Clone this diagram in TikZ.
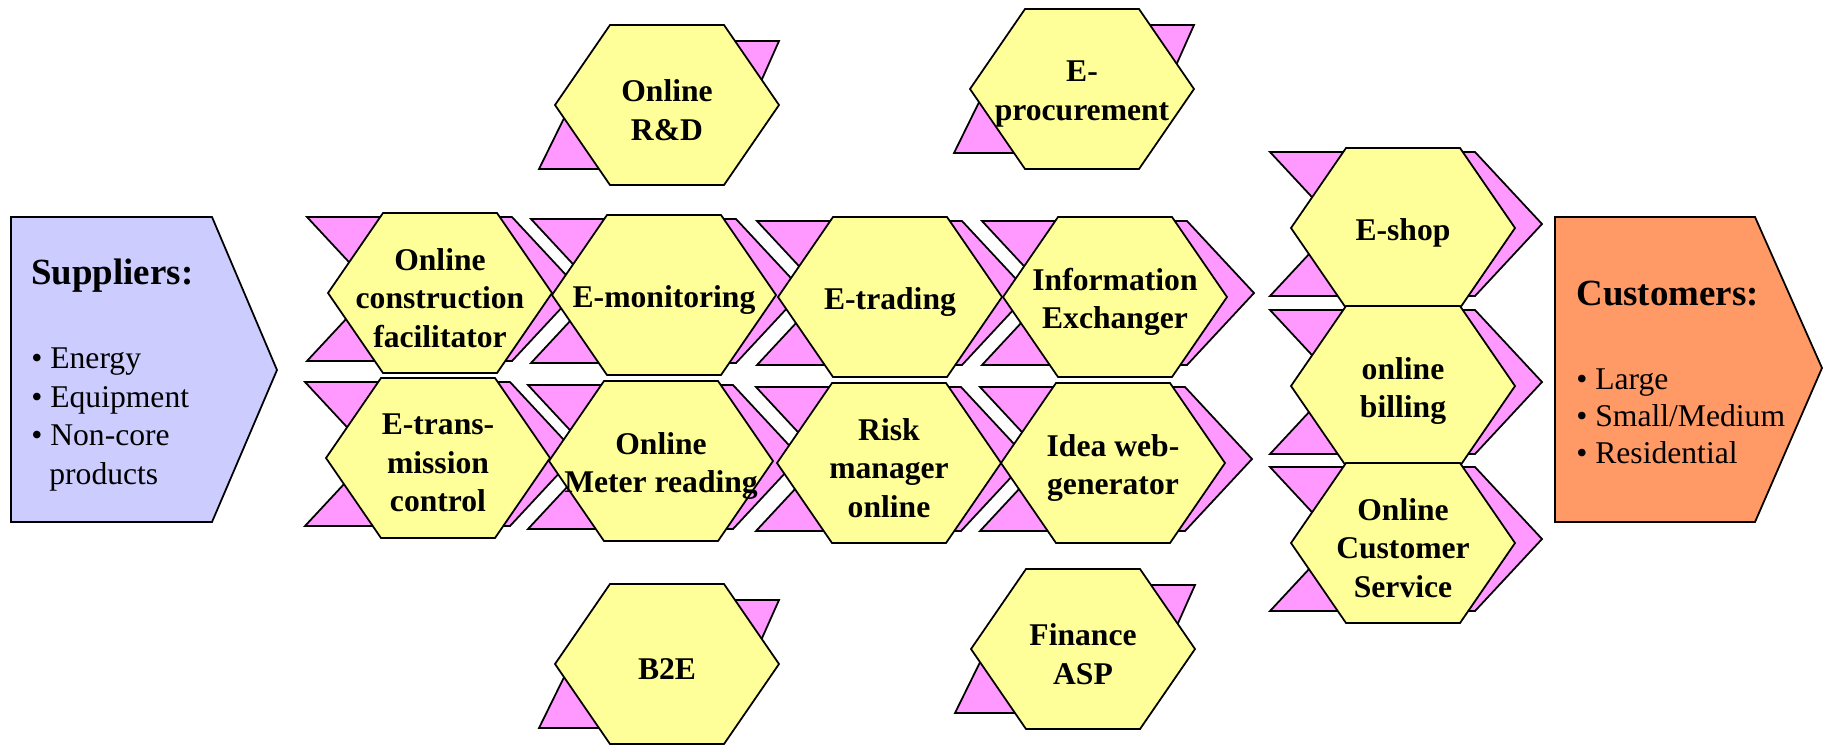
\documentclass[tikz,border=0pt]{standalone}
\usepackage{fontspec}
\setmainfont{Liberation Serif}

\definecolor{bandpink}{RGB}{255,153,255}
\definecolor{hexyellow}{RGB}{255,255,153}
\definecolor{supblue}{RGB}{204,204,255}
\definecolor{custorange}{RGB}{255,153,102}

\tikzset{
  band/.style={draw=black, fill=bandpink, line width=1pt},
  hexcell/.style={draw=black, fill=hexyellow, line width=1pt},
  celltext/.style={align=center, inner sep=0pt, font=\bfseries\fontsize{18}{22}\selectfont},
  endbox/.style={draw=black, line width=1pt},
  headtext/.style={anchor=base west, inner sep=0pt, font=\bfseries\fontsize{21}{25}\selectfont},
  listtext/.style={anchor=base west, inner sep=0pt, font=\fontsize{18}{20}\selectfont},
}

\begin{document}
\begin{tikzpicture}[x=0.02cm,y=-0.02cm]
  \useasboundingbox (0,0) rectangle (1825,745);

  % pink chevrons behind the chain
  \foreach \x/\y in {440/293, 664/295, 890/297, 1115/297,
                     438/458, 661/461, 889/463, 1113/463,
                     1403/228, 1403/386, 1403/543}
    \draw[band, shift={(\x,\y)}] (-133,-76) -- (72,-76) -- (139,-4)
      -- (72,68) -- (-133,68) -- (-66,-4) -- cycle;

  % slanted bands above and below
  \foreach \x/\y in {667/105, 1082/89, 667/664, 1083/649}
    \draw[band, shift={(\x,\y)}] (-65,-64) -- (112,-64) -- (55,64)
      -- (-128,64) -- cycle;

  % hexagon cells
  \foreach \x/\y/\n/\t in {
      440/293/constr/{Online\\construction\\facilitator},
      664/295/emon/{E-monitoring},
      890/297/etrade/{E-trading},
      1115/297/infoex/{Information\\Exchanger},
      438/458/etrans/{E-trans-\\mission\\control},
      661/461/meter/{Online\\Meter reading},
      889/463/risk/{Risk\\manager\\online},
      1113/463/idea/{Idea web-\\generator},
      1403/228/eshop/{E-shop},
      1403/386/billing/{online\\billing},
      1403/543/service/{Online\\Customer\\Service},
      667/105/rnd/{Online\\R\&D},
      1082/89/eproc/{E-\\procurement},
      667/664/btwoe/{B2E},
      1083/649/finance/{Finance\\ASP}} {
    \draw[hexcell, shift={(\x,\y)}] (-112,0) -- (-57,-80) -- (57,-80)
      -- (112,0) -- (57,80) -- (-57,80) -- cycle;
    \node[celltext] (\n) at (\x,\y+5) {\t};
  }

  % suppliers
  \draw[endbox, fill=supblue] (11,217) -- (212,217) -- (277,370)
    -- (212,522) -- (11,522) -- cycle;
  \node[headtext] (suphead) at (31,284) {Suppliers:};
  \node[listtext] (supa) at (31,368) {\textbullet\ Energy};
  \node[listtext] (supb) at (31,407) {\textbullet\ Equipment};
  \node[listtext] (supc) at (31,445) {\textbullet\ Non-core};
  \node[listtext] (supd) at (49,484) {products};

  % customers
  \draw[endbox, fill=custorange] (1555,217) -- (1755,217) -- (1822,368)
    -- (1755,522) -- (1555,522) -- cycle;
  \node[headtext] (custhead) at (1576,305) {Customers:};
  \node[listtext] (custa) at (1576,389) {\textbullet\ Large};
  \node[listtext] (custb) at (1576,426) {\textbullet\ Small/Medium};
  \node[listtext] (custc) at (1576,463) {\textbullet\ Residential};
\end{tikzpicture}
\end{document}
